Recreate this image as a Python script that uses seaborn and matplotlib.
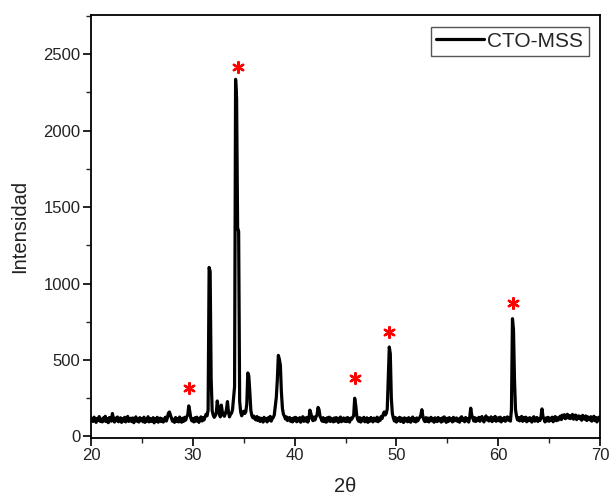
import numpy as np
import pandas as pd
import seaborn as sns
import matplotlib
matplotlib.use("Agg")
import matplotlib.pyplot as plt
from matplotlib.ticker import MultipleLocator

# 2-theta scan, 0.1 deg step from 20 to 70
two_theta = np.round(np.arange(20.0, 70.05, 0.1), 1)

# intensities, one row per degree (x.0 ... x.9)
intensity = [
    122, 110, 98, 126, 106, 92, 118, 104, 130, 99,        # 20
    113, 95, 121, 102, 132, 97, 116, 90, 124, 105,        # 21
    100, 150, 114, 94, 120, 103, 127, 96, 112, 122,       # 22
    92, 117, 101, 125, 95, 113, 131, 98, 106, 119,        # 23
    97, 121, 90, 108, 128, 100, 115, 94, 123, 104,        # 24
    117, 96, 126, 92, 111, 101, 129, 95, 118, 98,         # 25
    106, 123, 89, 114, 99, 125, 93, 108, 120, 97,         # 26
    115, 94, 104, 126, 101, 122, 152, 160, 140, 118,      # 27
    100, 112, 92, 124, 98, 117, 95, 127, 106, 93,         # 28
    119, 99, 125, 107, 129, 140, 200, 165, 121, 102,      # 29
    116, 95, 122, 100, 126, 104, 92, 118, 128, 101,       # 30
    122, 108, 128, 145, 135, 172, 1105, 1080, 378, 168,   # 31
    140, 125, 135, 150, 232, 185, 150, 128, 205, 160,     # 32
    140, 132, 150, 175, 228, 160, 128, 145, 152, 175,     # 33
    250, 325, 2335, 2210, 1365, 1340, 230, 160, 135, 150, # 34
    165, 150, 160, 210, 415, 395, 290, 170, 135, 122,     # 35
    133, 114, 108, 130, 104, 123, 98, 119, 106, 94,       # 36
    125, 103, 118, 95, 122, 107, 131, 100, 117, 124,      # 37
    140, 200, 255, 370, 530, 505, 465, 290, 185, 145,     # 38
    132, 114, 128, 104, 119, 124, 99, 116, 95, 121,       # 39
    104, 125, 96, 118, 102, 123, 93, 115, 129, 99,        # 40
    120, 101, 124, 94, 116, 172, 150, 121, 103, 127,      # 41
    108, 128, 140, 190, 175, 130, 117, 100, 123, 97,      # 42
    117, 93, 122, 102, 126, 98, 119, 104, 95, 121,        # 43
    100, 123, 106, 92, 118, 127, 96, 105, 121, 99,        # 44
    119, 97, 124, 104, 94, 120, 112, 125, 135, 250,       # 45
    205, 138, 110, 99, 123, 94, 118, 103, 125, 96,        # 46
    106, 122, 92, 117, 100, 124, 104, 95, 120, 107,       # 47
    101, 126, 96, 119, 105, 130, 118, 145, 160, 140,      # 48
    150, 180, 385, 585, 540, 250, 150, 121, 101, 124,     # 49
    94, 118, 103, 125, 98, 120, 106, 91, 122, 102,        # 50
    117, 96, 123, 104, 93, 119, 127, 100, 115, 95,        # 51
    121, 102, 116, 125, 140, 175, 130, 108, 97, 123,      # 52
    100, 120, 95, 116, 125, 102, 118, 93, 122, 105,       # 53
    97, 124, 103, 117, 94, 121, 101, 128, 106, 92,        # 54
    119, 98, 123, 104, 117, 95, 125, 102, 115, 121,       # 55
    99, 114, 93, 122, 129, 104, 118, 96, 124, 103,        # 56
    116, 94, 125, 185, 140, 120, 101, 123, 98, 118,       # 57
    104, 125, 99, 119, 130, 106, 95, 121, 134, 108,       # 58
    123, 101, 117, 128, 97, 120, 104, 131, 99, 115,       # 59
    122, 102, 126, 95, 118, 105, 124, 99, 119, 128,       # 60
    106, 121, 100, 175, 770, 700, 370, 175, 132, 108,     # 61
    124, 102, 118, 131, 99, 122, 105, 126, 96, 119,       # 62
    103, 123, 108, 94, 120, 129, 100, 115, 124, 98,       # 63
    118, 104, 128, 180, 130, 114, 95, 121, 102, 125,      # 64
    99, 119, 105, 126, 96, 117, 130, 103, 122, 107,       # 65
    124, 133, 110, 139, 122, 142, 116, 134, 145, 120,     # 66
    137, 117, 131, 144, 113, 133, 140, 110, 129, 135,     # 67
    116, 131, 106, 138, 119, 112, 134, 104, 128, 115,     # 68
    108, 129, 100, 122, 132, 103, 124, 95, 119, 126,      # 69
    110,                                                  # 70
]

# red asterisks marking the indexed reflections
star_x = [29.6, 34.45, 45.95, 49.3, 61.45]
star_y = [318, 2415, 384, 685, 875]

df = pd.DataFrame({"2theta": two_theta, "I": intensity})
stars = pd.DataFrame({"x": star_x, "y": star_y})

sns.set_style("white")
plt.rcParams["font.family"] = ["Liberation Sans", "DejaVu Sans"]

fig = plt.figure(figsize=(6.11, 5.04), dpi=100)
ax = fig.add_axes([0.149, 0.131, 0.833, 0.839])

sns.lineplot(data=df, x="2theta", y="I", color="black", linewidth=2.3,
             label="CTO-MSS", ax=ax, sort=False)
sns.scatterplot(data=stars, x="x", y="y", marker=(6, 2, 0), s=60,
                color="red", edgecolor="red", linewidth=1.7, legend=False, ax=ax)

ax.set_xlim(20, 70)
ax.set_ylim(-10, 2755)
ax.xaxis.set_major_locator(MultipleLocator(10))
ax.xaxis.set_minor_locator(MultipleLocator(5))
ax.yaxis.set_major_locator(MultipleLocator(500))
ax.yaxis.set_minor_locator(MultipleLocator(250))
ax.tick_params(which="major", direction="out", length=5.5, width=1.2,
               labelsize=12, pad=2, color="black", labelcolor="#222222",
               bottom=True, left=True)
ax.tick_params(which="minor", direction="out", length=3.5, width=1.0,
               bottom=True, left=True)

for s in ax.spines.values():
    s.set_linewidth(1.3)
    s.set_color("black")

ax.set_xlabel("2θ", fontsize=14.5, labelpad=10, color="#222222")
ax.set_ylabel("Intensidad", fontsize=14.5, labelpad=10, color="#222222")

leg = ax.legend(loc="upper right", fontsize=15, handlelength=2.3,
                handletextpad=0.15, borderpad=0.25, borderaxespad=0.55,
                fancybox=False, framealpha=1)
leg.get_frame().set_edgecolor("#555555")
leg.get_frame().set_linewidth(1.0)

fig.savefig("out.png", dpi=100)
